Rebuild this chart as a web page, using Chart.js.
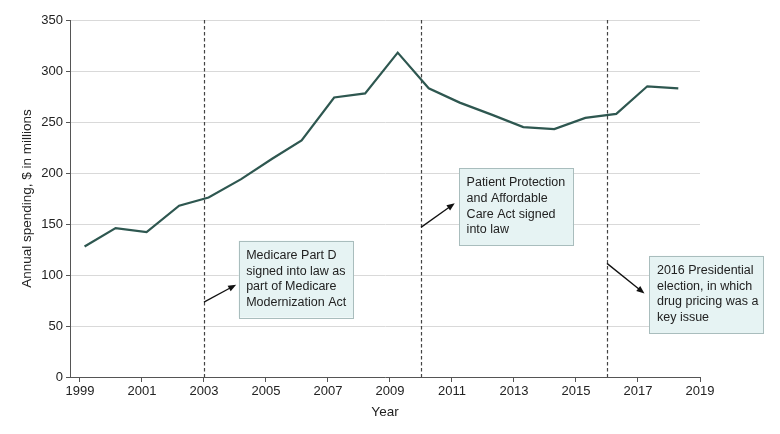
<!DOCTYPE html>
<html>
<head>
<meta charset="utf-8">
<script src="https://cdn.jsdelivr.net/npm/chart.js@4/dist/chart.umd.min.js"></script>
<style>
  html, body { margin: 0; padding: 0; background: #fff; }
  #wrap { width: 780px; height: 434px; position: relative; }
</style>
</head>
<body>
<div id="wrap"><canvas id="chart"></canvas></div>
<script>
// --- Data ---
const years = [1999.15, 2000.15, 2001.15, 2002.2, 2003.15, 2004.2, 2005.2, 2006.15, 2007.2, 2008.2,
               2009.25, 2010.25, 2011.25, 2012.3, 2013.3, 2014.3, 2015.3, 2016.3, 2017.3, 2018.3];
const spending = [128, 146, 142, 168, 176, 194, 214, 232, 274, 278,
                  318, 283, 269, 257, 245, 243, 254, 258, 285, 283];
const xTicks = [1999, 2001, 2003, 2005, 2007, 2009, 2011, 2013, 2015, 2017, 2019];
const yTicks = [0, 50, 100, 150, 200, 250, 300, 350];
const eventYears = [2003, 2010, 2016];
const eventNotes = [
    ['Medicare Part D', 'signed into law as', 'part of Medicare', 'Modernization Act'],
    ['Patient Protection', 'and Affordable', 'Care Act signed', 'into law'],
    ['2016 Presidential', 'election, in which', 'drug pricing was a', 'key issue']
];

// Note box and arrow placement, in data units
const noteLayout = [
    { x0: 2004.12, x1: 2007.81, top: 133.6, bottom: 58.3, from: [2003, 73.4], to: [2004.04, 90.5] },
    { x0: 2011.23, x1: 2014.90, top: 204.7, bottom: 129.3, from: [2010, 146.7], to: [2011.09, 170.3] },
    { x0: 2017.37, x1: 2021.04, top: 118.8, bottom: 43.2, from: [2016, 111.4], to: [2017.21, 81.9] }
];

const FONT = "'Liberation Sans', Arial, sans-serif";
const AXIS_COLOR = '#555';

// --- Event lines & notes ---
const eventPlugin = {
    id: 'events',
    beforeDatasetsDraw(chart) {
        const { ctx, chartArea, scales: { x } } = chart;
        ctx.save();
        ctx.strokeStyle = '#444';
        ctx.lineWidth = 1.2;
        ctx.setLineDash([3.5, 2.5]);
        eventYears.forEach(yr => {
            const px = Math.round(x.getPixelForValue(yr)) + 0.5;
            ctx.beginPath();
            ctx.moveTo(px, chartArea.top);
            ctx.lineTo(px, chartArea.bottom);
            ctx.stroke();
        });
        ctx.restore();
    },
    afterDatasetsDraw(chart) {
        const { ctx, scales: { x, y } } = chart;
        ctx.save();
        noteLayout.forEach((n, i) => {
            // box
            const l = x.getPixelForValue(n.x0), r = x.getPixelForValue(n.x1);
            const t = y.getPixelForValue(n.top), b = y.getPixelForValue(n.bottom);
            ctx.fillStyle = '#e6f3f3';
            ctx.strokeStyle = '#a9bdbd';
            ctx.lineWidth = 1;
            ctx.fillRect(l, t, r - l, b - t);
            ctx.strokeRect(Math.round(l) + 0.5, Math.round(t) + 0.5, Math.round(r - l), Math.round(b - t));

            // text
            ctx.fillStyle = '#222';
            ctx.font = `12.5px ${FONT}`;
            ctx.textAlign = 'left';
            ctx.textBaseline = 'middle';
            eventNotes[i].forEach((line, k) => {
                ctx.fillText(line, l + 7.5, t + 14.7 + k * 15.7);
            });

            // arrow
            const fx = x.getPixelForValue(n.from[0]), fy = y.getPixelForValue(n.from[1]);
            const tx = x.getPixelForValue(n.to[0]), ty = y.getPixelForValue(n.to[1]);
            const ang = Math.atan2(ty - fy, tx - fx);
            const head = 8, half = 3.2;
            ctx.strokeStyle = '#111';
            ctx.fillStyle = '#111';
            ctx.lineWidth = 1.3;
            ctx.beginPath();
            ctx.moveTo(fx, fy);
            ctx.lineTo(tx - Math.cos(ang) * head * 0.8, ty - Math.sin(ang) * head * 0.8);
            ctx.stroke();
            ctx.beginPath();
            ctx.moveTo(tx, ty);
            ctx.lineTo(tx - Math.cos(ang) * head - Math.sin(ang) * half, ty - Math.sin(ang) * head + Math.cos(ang) * half);
            ctx.lineTo(tx - Math.cos(ang) * head + Math.sin(ang) * half, ty - Math.sin(ang) * head - Math.cos(ang) * half);
            ctx.closePath();
            ctx.fill();
        });
        ctx.restore();
    }
};

// --- Chart ---
new Chart(document.getElementById('chart'), {
    type: 'line',
    data: {
        datasets: [{
            data: years.map((yr, i) => ({ x: yr, y: spending[i] })),
            borderColor: '#2e5750',
            borderWidth: 2.2,
            pointRadius: 0,
            tension: 0,
            fill: false
        }]
    },
    options: {
        responsive: true,
        maintainAspectRatio: false,
        animation: false,
        layout: { padding: { top: 20, right: 80, left: 0, bottom: 0 } },
        plugins: {
            legend: { display: false },
            tooltip: { enabled: false }
        },
        scales: {
            x: {
                type: 'linear',
                min: 1998.68,
                max: 2019,
                afterBuildTicks: s => { s.ticks = xTicks.map(v => ({ value: v })); },
                afterFit: s => { s.height = 57; },
                grid: { drawOnChartArea: false, tickLength: 5, tickColor: AXIS_COLOR },
                border: { color: AXIS_COLOR, width: 1 },
                ticks: {
                    color: '#222',
                    font: { family: FONT, size: 13 },
                    padding: 2,
                    maxRotation: 0,
                    autoSkip: false,
                    callback: v => String(v)
                },
                title: {
                    display: true,
                    text: 'Year',
                    color: '#222',
                    font: { family: FONT, size: 13.5 },
                    padding: { top: 0, bottom: 14 }
                }
            },
            y: {
                min: 0,
                max: 350,
                afterBuildTicks: s => { s.ticks = yTicks.map(v => ({ value: v })); },
                afterFit: s => { s.width = 70; },
                grid: { color: '#d9d9d9', tickLength: 4, tickColor: AXIS_COLOR },
                border: { color: AXIS_COLOR, width: 1 },
                ticks: {
                    color: '#222',
                    font: { family: FONT, size: 13 },
                    padding: 3
                },
                title: {
                    display: true,
                    text: 'Annual spending, $ in millions',
                    color: '#222',
                    font: { family: FONT, size: 13.5 },
                    padding: { top: 19, bottom: 0 }
                }
            }
        }
    },
    plugins: [eventPlugin]
});
</script>
</body>
</html>
